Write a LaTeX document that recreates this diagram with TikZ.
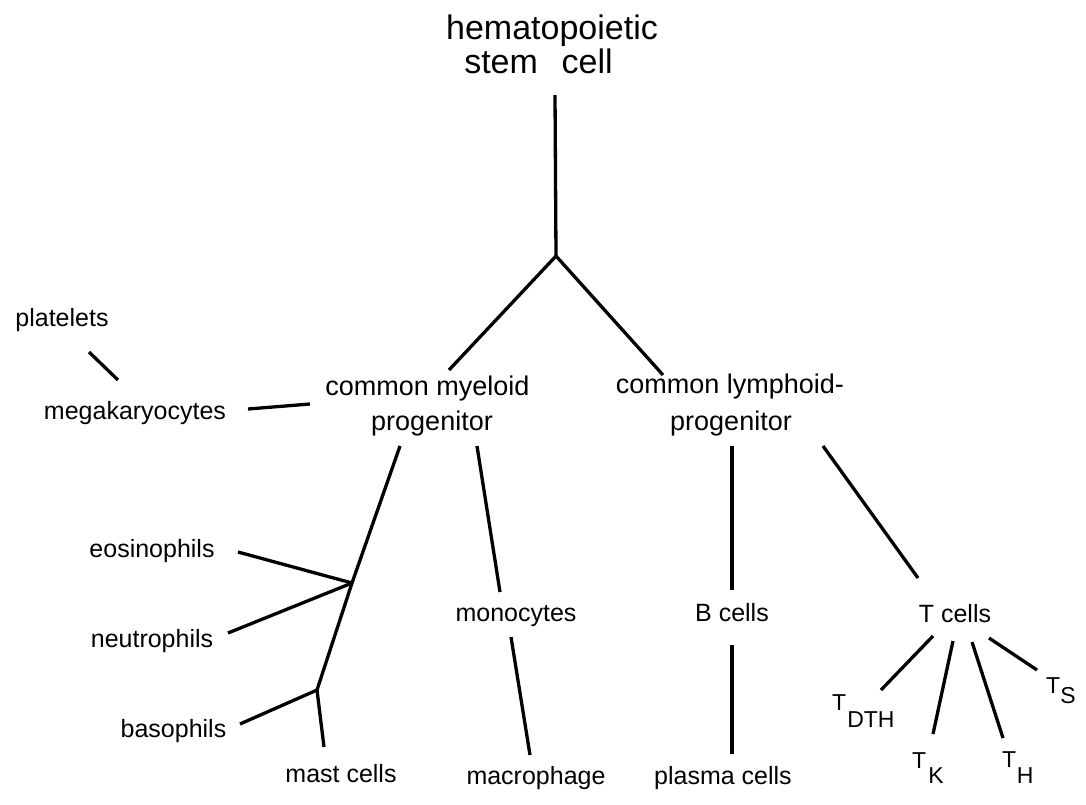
\documentclass[tikz,border=0pt]{standalone}
\usepackage{fontspec}
\setmainfont{Liberation Sans}
\usetikzlibrary{calc}
\begin{document}
\begin{tikzpicture}[x=1pt,y=-1pt,
  lbl/.style={inner sep=0pt,anchor=base},
  bigtxt/.style={lbl,font=\fontsize{34}{38}\selectfont},
  midtxt/.style={lbl,font=\fontsize{27}{31}\selectfont},
  smalltxt/.style={lbl,font=\fontsize{25}{29}\selectfont},
  tsub/.style={inner sep=0pt,anchor=base west,font=\fontsize{23}{27}\selectfont},
  link/.style={line width=3.3pt,black}]
\fill[white] (0,0) rectangle (1086,804);
\useasboundingbox (0,0) rectangle (1086,804);

% labels
\node[bigtxt] (hsc) at (552,39) {hematopoietic};
\node[bigtxt] (hscb) at (538.5,73) {stem\hspace{0.7em}cell};
\node[midtxt] (cmpA) at (427.5,395) {common myeloid};
\node[midtxt] (cmpB) at (432,430) {progenitor};
\node[midtxt] (clpA) at (730,393) {common lymphoid-};
\node[midtxt] (clpB) at (731,430) {progenitor};
\node[smalltxt] (plt) at (62,326) {platelets};
\node[smalltxt] (mega) at (135,419) {megakaryocytes};
\node[smalltxt] (eos) at (152,557) {eosinophils};
\node[smalltxt] (neu) at (152,647) {neutrophils};
\node[smalltxt] (baso) at (173.5,737) {basophils};
\node[smalltxt] (mast) at (341,782) {mast cells};
\node[smalltxt] (mono) at (516,621) {monocytes};
\node[smalltxt] (macro) at (536,784) {macrophage};
\node[smalltxt] (bc) at (732,621) {B cells};
\node[smalltxt] (pc) at (723,784) {plasma cells};
\node[smalltxt] (tc) at (955,622) {T cells};
\node[tsub] (tdth) at (832,710) {T\hspace{1pt}\raisebox{-17pt}{DTH}};
\node[tsub] (tk) at (912,768) {T\hspace{2pt}\raisebox{-15pt}{K}};
\node[tsub] (th) at (1002,767) {T\hspace{0.5pt}\raisebox{-16pt}{H}};
\node[tsub] (ts) at (1046,693) {T\hspace{0pt}\raisebox{-10pt}{S}};

% junctions
\coordinate (J1) at (556,256);
\coordinate (J2) at (352,583);
\coordinate (J3) at (317,690);

% connectors
\draw[link] ($(hscb.base)+(16.5,22)$) -- (J1);
\draw[link] (J1) -- ($(cmpA.base)+(21.5,-25)$);
\draw[link] (J1) -- ($(clpA.base)+(-67,-18)$);
\draw[link] ($(plt.base)+(27,26)$) -- ($(mega.base)+(-17,-39)$);
\draw[link] ($(mega.base)+(113,-10)$) -- ($(cmpA.base)+(-117.5,9)$);
\draw[link] ($(cmpB.base)+(-32,16)$) -- (J2) -- (J3);
\draw[link] ($(eos.base)+(86,-5)$) -- (J2);
\draw[link] ($(neu.base)+(76,-14)$) -- (J2);
\draw[link] ($(baso.base)+(66.5,-13)$) -- (J3);
\draw[link] (J3) -- ($(mast.base)+(-17,-35)$);
\draw[link] ($(cmpB.base)+(45,16)$) -- ($(mono.base)+(-16,-29)$);
\draw[link] ($(mono.base)+(-5,16)$) -- ($(macro.base)+(-6,-29)$);
\draw[link] ($(clpB.base)+(1,16)$) -- ($(bc.base)+(0,-31)$);
\draw[link] ($(bc.base)+(0,24)$) -- ($(pc.base)+(9,-30)$);
\draw[link] ($(clpB.base)+(92,16)$) -- ($(tc.base)+(-37,-44)$);
\draw[link] ($(tc.base)+(-22,14)$) -- ($(tdth.base west)+(49,-20)$);
\draw[link] ($(tc.base)+(-2,19)$) -- ($(tk.base west)+(21,-34)$);
\draw[link] ($(tc.base)+(17,20)$) -- ($(th.base west)+(1,-29)$);
\draw[link] ($(tc.base)+(34,16)$) -- ($(ts.base west)+(-9,-23)$);
\end{tikzpicture}
\end{document}
